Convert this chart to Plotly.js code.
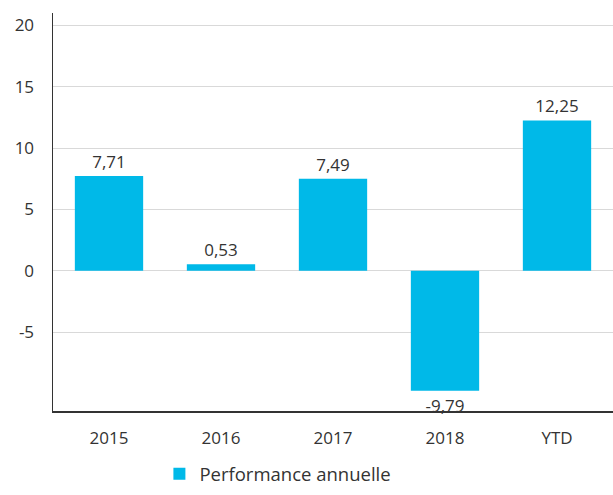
<!DOCTYPE html>
<html><head><meta charset="utf-8">
<script src="https://cdn.plot.ly/plotly-3.0.1.min.js"></script>
<style>html,body{margin:0;padding:0;background:#fff}#c{width:613px;height:495px}</style>
</head><body><div id="c"></div>
<script>
const categories = ["2015", "2016", "2017", "2018", "YTD"];
const values = [7.71, 0.53, 7.49, -9.79, 12.25];
const seriesName = "Performance annuelle";
const yTicks = [-5, 0, 5, 10, 15, 20];

const font = {family: "'Open Sans', sans-serif", size: 17, color: "#333"};
Plotly.newPlot("c", [{
  type: "bar", x: categories, y: values, name: seriesName,
  marker: {color: "#00B9E8"},
  texttemplate: "%{y:.2f}", textposition: "outside", cliponaxis: false,
  textfont: {family: font.family, size: 17, color: "#333"},
  width: 0.61
}], {
  width: 613, height: 495,
  margin: {l: 53, r: 0, t: 13, b: 84},
  separators: ",.",
  font: font,
  showlegend: true,
  legend: {orientation: "h", x: 0.19, xanchor: "left", yref: "container", y: 0.042, yanchor: "middle",
           font: {family: font.family, size: 18.5, color: "#333"}},
  xaxis: {type: "category", automargin: false, showline: true, linecolor: "#333", linewidth: 1.5, ticks: "outside", ticklen: 11, tickcolor: "rgba(0,0,0,0)", showgrid: false},
  yaxis: {range: [-11.43, 21], automargin: false, tickvals: yTicks, ticktext: yTicks.map(String), showline: true, linecolor: "#333", linewidth: 1.5,
          gridcolor: "#d9d9d9", gridwidth: 1, zeroline: false, ticks: "outside", ticklen: 14, tickcolor: "rgba(0,0,0,0)"},
  plot_bgcolor: "#fff", paper_bgcolor: "#fff"
}, {displayModeBar: false, staticPlot: true});
</script></body></html>
